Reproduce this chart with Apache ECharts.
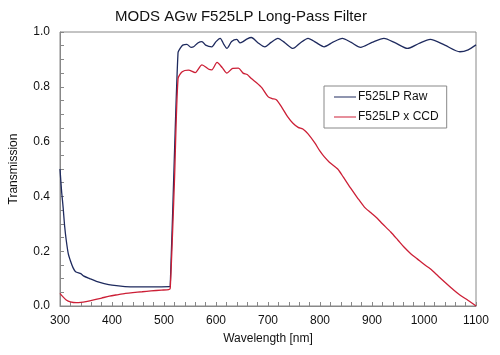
<!DOCTYPE html>
<html>
<head>
<meta charset="utf-8">
<script src="https://cdn.jsdelivr.net/npm/echarts@6/dist/echarts.min.js"></script>
<style>html,body{margin:0;padding:0;background:#fff}#c{width:500px;height:355px}</style>
</head>
<body>
<div id="c"></div>
<script>
var titleText = 'MODS AGw F525LP Long-Pass Filter';
var xName = 'Wavelength [nm]';
var yName = 'Transmission';
var seriesNames = ['F525LP Raw', 'F525LP x CCD'];

var rawWl = [300,303,306,309,312,316,320,325,330,340,345,357,370,385,400,425,450,480,510,512,520,527,531,536,544,552,557,565,573,580,592,600,608,615,621,630,640,646,652,660,668,680,694,706,719,733,748,762,777,792,808,825,843,860,878,900,923,945,968,990,1012,1040,1069,1085,1100];
var rawT  = [0.50,0.42,0.36,0.29,0.24,0.19,0.165,0.14,0.125,0.118,0.11,0.10,0.09,0.082,0.076,0.071,0.07,0.07,0.071,0.072,0.55,0.925,0.94,0.952,0.955,0.944,0.946,0.96,0.965,0.952,0.946,0.965,0.977,0.955,0.94,0.965,0.973,0.96,0.965,0.975,0.98,0.962,0.946,0.962,0.977,0.96,0.94,0.96,0.977,0.962,0.946,0.963,0.977,0.962,0.944,0.962,0.977,0.96,0.94,0.958,0.973,0.952,0.928,0.935,0.953];

var ccdWl = [300,305,312,320,331,340,350,365,380,395,410,426,440,458,475,495,509,512,520,527,535,547,560,573,586,592,602,612,621,632,643,652,660,668,678,688,700,708,716,726,738,748,758,767,777,790,800,808,818,834,845,859,872,885,898,910,920,936,950,961,975,987,1000,1012,1028,1044,1057,1069,1085,1100];
var ccdT  = [0.046,0.035,0.022,0.015,0.012,0.013,0.016,0.022,0.029,0.036,0.041,0.046,0.049,0.052,0.055,0.058,0.06,0.065,0.45,0.83,0.855,0.861,0.852,0.88,0.864,0.862,0.889,0.87,0.85,0.867,0.868,0.85,0.845,0.83,0.815,0.797,0.764,0.757,0.753,0.727,0.69,0.667,0.652,0.646,0.628,0.595,0.565,0.545,0.525,0.5,0.47,0.43,0.395,0.362,0.34,0.32,0.3,0.27,0.24,0.216,0.19,0.172,0.152,0.136,0.108,0.08,0.058,0.04,0.02,0.0];

function pairs(xs, ys){ return xs.map(function(x,i){ return [x, ys[i]]; }); }

var font = 'Liberation Sans, Arial, sans-serif';
var chart = echarts.init(document.getElementById('c'), null, {renderer:'canvas'});
chart.setOption({
  animation: false,
  backgroundColor: '#ffffff',
  title: {
    text: titleText, left: 236, top: 4, textAlign: 'center',
    textStyle: {fontFamily: font, fontSize: 15, fontWeight: 'normal', color: '#111'}
  },
  grid: {left: 57, right: 24, top: 32, bottom: 49, show: true, borderColor: '#888', borderWidth: 1, backgroundColor: 'transparent'},
  legend: {
    orient: 'vertical', left: 324, top: 86, width: 126,
    padding: [5, 8, 5, 10], itemGap: 8,
    borderColor: '#888', borderWidth: 1, backgroundColor: '#fff',
    itemWidth: 22, itemHeight: 10,
    textStyle: {fontFamily: font, fontSize: 12, color: '#111', padding: [0,0,0,-3]},
    data: [{name: seriesNames[0], icon: 'path://M0,5L22,5L22,6L0,6Z'}, {name: seriesNames[1], icon: 'path://M0,5L22,5L22,6L0,6Z'}]
  },
  xAxis: {
    type: 'value', min: 300, max: 1100, interval: 100,
    name: xName, nameLocation: 'middle', nameGap: 27,
    nameTextStyle: {fontFamily: font, fontSize: 12, color: '#111'},
    axisLine: {show: true, lineStyle: {color: '#888'}},
    axisTick: {show: true, inside: true, length: 4, lineStyle: {color: '#888'}},
    minorTick: {show: true, splitNumber: 5, length: 4, lineStyle: {color: '#888'}},
    axisLabel: {fontFamily: font, fontSize: 12, color: '#111', margin: 9, formatter: function(v){ return String(v); }},
    splitLine: {show: false}
  },
  yAxis: {
    type: 'value', min: 0, max: 1, interval: 0.2,
    name: yName, nameLocation: 'middle', nameGap: 40,
    nameTextStyle: {fontFamily: font, fontSize: 12, color: '#111'},
    axisLine: {show: true, lineStyle: {color: '#888'}},
    axisTick: {show: true, inside: true, length: 4, lineStyle: {color: '#888'}},
    minorTick: {show: true, splitNumber: 4, length: 4, lineStyle: {color: '#888'}},
    axisLabel: {fontFamily: font, fontSize: 12, color: '#111', margin: 10, formatter: function(v){ return v.toFixed(1); }},
    splitLine: {show: false}
  },
  series: [
    {name: seriesNames[0], type: 'line', data: pairs(rawWl, rawT), symbol: 'none', smooth: 0.25,
     lineStyle: {color: '#1e2a5e', width: 1.3}, itemStyle: {color: '#1e2a5e'}},
    {name: seriesNames[1], type: 'line', data: pairs(ccdWl, ccdT), symbol: 'none', smooth: 0.25,
     lineStyle: {color: '#cc1f36', width: 1.3}, itemStyle: {color: '#cc1f36'}}
  ]
});
</script>
</body>
</html>
